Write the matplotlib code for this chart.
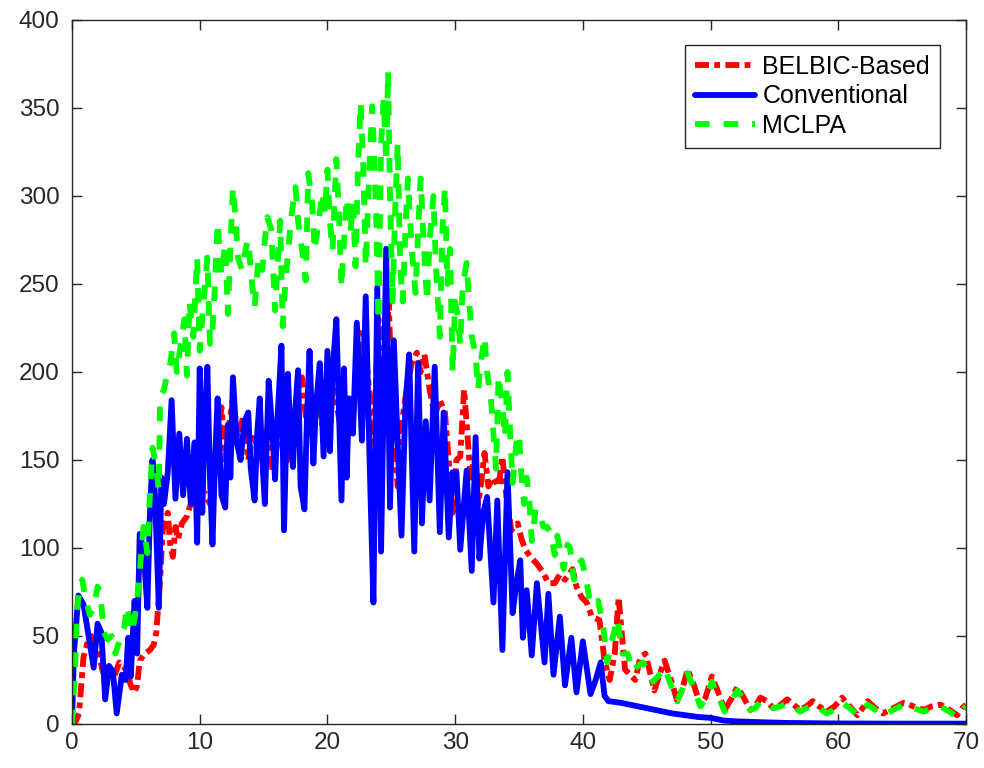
import matplotlib
matplotlib.use("Agg")
import matplotlib.pyplot as plt

plt.rcParams['font.family'] = ['Liberation Sans', 'DejaVu Sans']

# ---- data ----
belbic_x = [0, 0.2, 0.55, 0.9, 1.2, 1.5, 1.8, 2.1, 2.4, 2.7, 3.0, 3.3, 3.7, 4.0, 4.3, 4.6, 4.9, 5.1, 5.3, 5.7,
            6.1, 6.4, 6.6, 6.9, 7.1, 7.3, 7.5, 7.7, 7.9, 8.1, 8.3, 8.6, 9.0, 9.2, 9.6, 10.0, 10.5, 10.8, 11.2, 11.5,
            11.7, 12.0, 12.3, 12.6, 13.0, 13.4, 13.8, 14.2, 14.6, 14.9, 15.3, 15.7, 16.1, 16.5, 16.9, 17.3, 17.7, 18.0, 18.3, 18.7,
            19.2, 19.6, 20.0, 20.5, 21.0, 21.5, 22.0, 22.5, 22.8, 23.2, 23.6, 24.0, 24.4, 24.8, 25.1, 25.5, 25.8, 26.2, 26.6, 27.0,
            27.3, 27.6, 28.0, 28.4, 28.8, 29.2, 29.5, 29.8, 30.1, 30.4, 30.7, 30.9, 31.2, 31.5, 31.8, 32.0, 32.3, 32.6, 33.0, 33.4,
            33.7, 34.0, 34.4, 34.9, 35.2, 35.5, 35.9, 36.4, 36.9, 37.3, 37.8, 38.2, 38.6, 39.2, 39.5, 39.9, 40.3, 40.7, 41.3, 41.7,
            42.1, 42.5, 42.8, 43.3, 43.7, 44.1, 44.5, 44.9, 45.3, 45.6, 46.0, 46.4, 46.9, 47.4, 47.8, 48.2, 48.7, 49.2, 49.6, 50.1,
            50.6, 51.1, 51.6, 52.1, 52.6, 53.1, 53.5, 53.9, 54.4, 54.9, 55.5, 56.0, 56.5, 57.0, 57.5, 58.0, 58.5, 59.1, 59.7, 60.3,
            60.9, 61.5, 61.9, 62.3, 62.9, 63.5, 64.3, 65.1, 65.9, 66.7, 67.3, 68.0, 68.7, 69.3, 69.7, 70]
belbic_y = [0, 0, 6, 38, 46, 50, 45, 40, 30, 33, 31, 27, 35, 33, 30, 22, 18, 22, 36, 40,
            42, 45, 52, 82, 110, 115, 120, 101, 95, 112, 105, 114, 118, 123, 130, 135, 130, 125, 145, 165,
            180, 150, 170, 185, 160, 175, 150, 165, 155, 150, 170, 144, 160, 180, 150, 170, 190, 197, 175, 165,
            185, 170, 175, 190, 170, 185, 175, 215, 225, 195, 160, 230, 180, 240, 175, 135, 170, 190, 205, 211,
            200, 210, 190, 175, 184, 177, 150, 120, 150, 152, 190, 171, 140, 150, 125, 135, 154, 135, 140, 135,
            152, 130, 110, 114, 105, 99, 95, 91, 86, 80, 80, 85, 82, 88, 78, 72, 69, 61, 59, 36,
            25, 40, 72, 31, 28, 25, 38, 40, 28, 19, 28, 36, 25, 13, 20, 31, 22, 11, 15, 27,
            18, 8, 14, 21, 15, 8, 10, 15, 13, 9, 11, 14, 11, 8, 10, 13, 10, 7, 10, 15,
            10, 5, 9, 13, 9, 6, 9, 12, 10, 8, 10, 11, 8, 5, 9, 11]

conv_x = [0, 0.15, 0.5, 0.9, 1.3, 1.7, 2.0, 2.3, 2.6, 2.9, 3.2, 3.5, 3.9, 4.2, 4.4, 4.6, 4.9, 5.1, 5.3, 5.6,
          5.9, 6.1, 6.3, 6.5, 6.8, 7.0, 7.2, 7.5, 7.8, 8.1, 8.4, 8.7, 9.0, 9.3, 9.6, 9.8, 10.0, 10.2, 10.4, 10.6,
          10.8, 11.0, 11.2, 11.4, 11.7, 12.0, 12.2, 12.4, 12.6, 12.9, 13.2, 13.5, 13.8, 14.0, 14.3, 14.5, 14.7, 14.9, 15.1, 15.4,
          15.7, 15.9, 16.1, 16.4, 16.6, 16.9, 17.1, 17.3, 17.5, 17.7, 17.9, 18.2, 18.4, 18.6, 18.9, 19.1, 19.4, 19.7, 20.0, 20.2,
          20.4, 20.7, 21.1, 21.3, 21.5, 21.7, 22.0, 22.3, 22.7, 23.0, 23.3, 23.6, 23.9, 24.2, 24.6, 24.9, 25.2, 25.5, 25.8, 26.1,
          26.4, 26.8, 27.1, 27.4, 27.7, 28.0, 28.4, 28.8, 29.1, 29.5, 29.8, 30.1, 30.4, 30.9, 31.3, 31.6, 31.9, 32.2, 32.5, 33.0,
          33.3, 33.7, 34.1, 34.5, 34.8, 35.1, 35.3, 35.6, 36.0, 36.4, 37.0, 37.3, 37.7, 38.2, 38.6, 39.1, 39.5, 40.0, 40.6, 41.0,
          41.4, 41.7, 42.0, 43, 44, 45, 46, 47, 48, 49, 50, 51, 52, 54, 56, 60, 65, 70]
conv_y = [0, 40, 73, 68, 50, 32, 57, 52, 14, 33, 30, 6, 28, 25, 49, 27, 70, 40, 108, 99,
          66, 120, 150, 130, 66, 140, 125, 143, 184, 128, 165, 130, 162, 125, 160, 103, 202, 120, 175, 203,
          140, 102, 150, 185, 130, 123, 170, 140, 197, 160, 150, 172, 177, 145, 127, 165, 185, 150, 125, 195,
          165, 139, 175, 215, 110, 199, 165, 146, 180, 201, 135, 122, 175, 212, 148, 180, 205, 152, 212, 155,
          200, 230, 127, 202, 140, 185, 165, 228, 161, 243, 150, 69, 248, 98, 270, 123, 218, 160, 107, 180,
          210, 98, 205, 114, 172, 127, 203, 109, 177, 106, 143, 143, 99, 144, 87, 163, 94, 120, 129, 69,
          127, 42, 143, 63, 80, 93, 49, 76, 39, 80, 35, 74, 28, 61, 22, 49, 18, 47, 17, 25,
          35, 16, 13, 12, 10.5, 9, 7.5, 6, 5, 4, 3.5, 2, 1.5, 1, 0.6, 0.3, 0.2, 0.2]

mclpa_x = [0, 0.2, 0.4, 0.6, 0.8, 1.1, 1.4, 1.7, 2.0, 2.2, 2.5, 2.8, 3.1, 3.4, 3.7, 3.9, 4.1, 4.3, 4.5, 4.7,
           4.9, 5.1, 5.3, 5.6, 5.9, 6.1, 6.3, 6.5, 6.8, 6.9, 7.2, 7.5, 7.7, 8.0, 8.2, 8.5, 8.8, 9.0, 9.2, 9.5,
           9.8, 10.0, 10.3, 10.6, 10.8, 11.0, 11.2, 11.4, 11.7, 12.0, 12.2, 12.4, 12.6, 12.8, 13.0, 13.3, 13.6, 13.8, 14.1, 14.3,
           14.6, 14.9, 15.1, 15.3, 15.6, 15.9, 16.1, 16.3, 16.5, 16.7, 17.0, 17.2, 17.5, 17.7, 18.0, 18.3, 18.5, 18.8, 19.0, 19.3,
           19.6, 19.8, 20.0, 20.2, 20.4, 20.7, 20.9, 21.1, 21.3, 21.5, 21.8, 22.0, 22.2, 22.4, 22.6, 22.8, 23.0, 23.2, 23.5, 23.6,
           23.8, 24.0, 24.2, 24.4, 24.6, 24.75, 24.9, 25.1, 25.3, 25.5, 25.7, 25.9, 26.1, 26.3, 26.6, 26.9, 27.1, 27.3, 27.6, 27.8,
           28.0, 28.3, 28.5, 28.8, 29.0, 29.2, 29.4, 29.6, 29.8, 30.0, 30.2, 30.4, 30.6, 30.9, 31.1, 31.3, 31.6, 31.8, 32.0, 32.3,
           32.5, 32.8, 33.0, 33.2, 33.4, 33.7, 33.9, 34.1, 34.3, 34.5, 34.8, 35.0, 35.2, 35.4, 35.6, 35.8, 36.0, 36.3, 36.6, 36.9,
           37.2, 37.5, 37.8, 38.0, 38.3, 38.5, 38.8, 39.0, 39.3, 39.6, 39.9, 40.2, 40.5, 40.8, 41.2, 41.6, 41.9, 42.3, 42.7, 43.1,
           43.5, 43.9, 44.3, 44.7, 45.1, 45.5, 46.0, 46.4, 46.9, 47.4, 47.8, 48.2, 48.7, 49.2, 49.6, 50.1, 50.6, 51.1, 51.6, 52.1,
           52.6, 53.1, 53.5, 53.9, 54.4, 54.9, 55.5, 56.0, 56.5, 57.0, 57.5, 58.0, 58.5, 59.1, 59.7, 60.3, 60.9, 61.5, 61.9, 62.3,
           62.9, 63.5, 64.3, 65.1, 65.9, 66.7, 67.3, 68.0, 68.7, 69.3, 69.7, 70]
mclpa_y = [0, 25, 65, 78, 82, 70, 62, 66, 78, 75, 52, 48, 50, 40, 47, 52, 55, 67, 60, 52,
           60, 70, 87, 112, 97, 130, 157, 150, 133, 185, 190, 200, 205, 222, 200, 215, 230, 198, 240, 220,
           265, 212, 240, 265, 216, 224, 250, 285, 255, 273, 233, 270, 305, 288, 265, 258, 270, 275, 250, 237,
           265, 258, 275, 288, 281, 235, 260, 286, 226, 250, 275, 290, 305, 286, 270, 252, 313, 296, 269, 285,
           302, 290, 315, 285, 269, 321, 290, 248, 275, 299, 280, 296, 260, 319, 353, 320, 260, 300, 351, 334,
           293, 229, 330, 355, 319, 371, 300, 240, 290, 330, 260, 240, 280, 310, 270, 245, 280, 310, 265, 240,
           275, 300, 260, 220, 280, 305, 250, 270, 200, 240, 232, 215, 250, 262, 240, 220, 210, 190, 205, 220,
           200, 185, 165, 145, 198, 180, 163, 200, 166, 137, 160, 165, 140, 125, 140, 128, 104, 122, 120, 112,
           112, 108, 96, 107, 95, 88, 102, 100, 82, 90, 93, 85, 72, 67, 70, 55, 35, 48, 60, 40,
           40, 30, 33, 35, 30, 24, 28, 32, 22, 13, 20, 29, 20, 10, 14, 24, 16, 7, 13, 19,
           14, 8, 9, 13, 12, 9, 10, 12, 10, 7, 9, 11, 9, 6, 8, 12, 9, 5, 8, 11,
           8, 5, 8, 11, 9, 7, 9, 10, 7, 4, 8, 10]

x_ticks = [0, 10, 20, 30, 40, 50, 60, 70]
y_ticks = [0, 50, 100, 150, 200, 250, 300, 350, 400]

# ---- figure ----
fig = plt.figure(figsize=(9.84, 7.68), dpi=100)
ax = fig.add_axes([72/984, 44/768, 894/984, 704/768])

lw = 4.2
ax.plot(belbic_x, belbic_y, color='#ff0000', lw=lw, linestyle=(0, (2.4, 0.9, 1.0, 0.9)),
        label='BELBIC-Based', dash_joinstyle='round')
ax.plot(conv_x, conv_y, color='#0000ff', lw=lw, linestyle='-', label='Conventional',
        solid_joinstyle='round', solid_capstyle='round')
ax.plot(mclpa_x, mclpa_y, color='#00ff00', lw=lw, linestyle=(0, (2.5, 2.4)), label='MCLPA',
        dash_joinstyle='round')

ax.set_xlim(0, 70)
ax.set_ylim(0, 400)
ax.set_xticks(x_ticks)
ax.set_yticks(y_ticks)
ax.tick_params(direction='in', length=7, width=1, top=True, right=True,
               labelsize=17.5, colors='#262626')
ax.tick_params(axis='y', pad=9)
ax.tick_params(axis='x', pad=6)
for s in ax.spines.values():
    s.set_color('#262626')
    s.set_linewidth(1)

leg = ax.legend(loc='upper right', bbox_to_anchor=(0.971, 0.9645), fontsize=18,
                fancybox=False, framealpha=1, edgecolor='#262626', handlelength=2.4,
                borderpad=0.4, labelspacing=0.22, handletextpad=0.3, borderaxespad=0.0)
leg.get_frame().set_linewidth(1)

fig.savefig('out.png', dpi=100)
